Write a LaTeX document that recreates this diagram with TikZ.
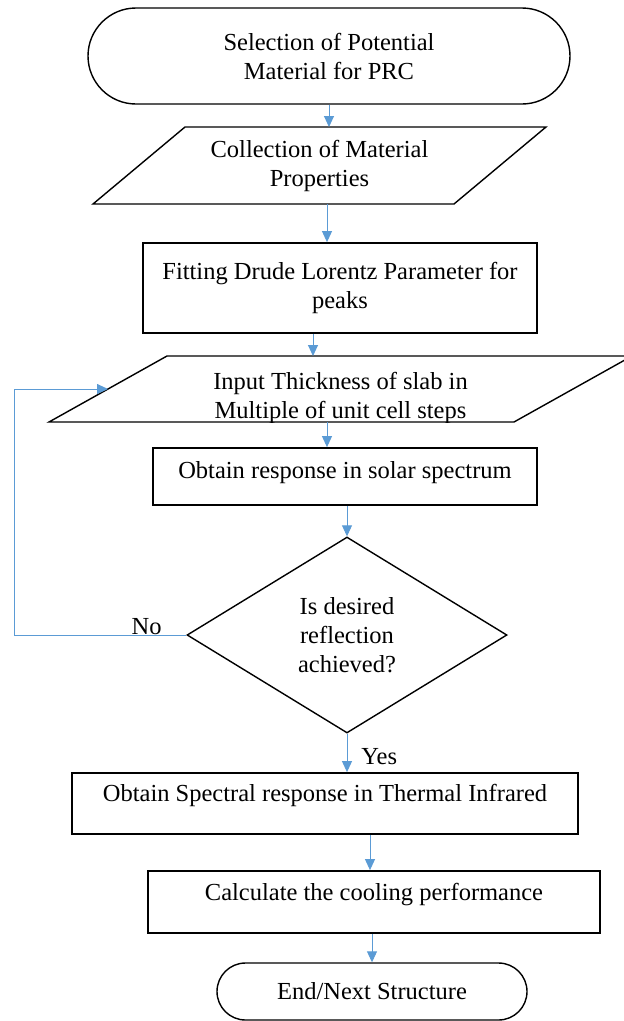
\documentclass[tikz,border=0pt]{standalone}
\usepackage{fontspec}
\setmainfont{Liberation Serif}
\usetikzlibrary{shapes.geometric,shapes.misc,arrows.meta}

\definecolor{flowblue}{RGB}{91,155,213}

\tikzset{
  txt/.style={align=center, inner sep=0pt, font=\fontsize{24.5}{29}\selectfont},
  outline/.style={draw=black, line width=1.4pt, line join=miter},
  base/.style={txt, outline},
  term/.style={base, rounded rectangle},
  proc/.style={base, rectangle, line width=1.8pt},
  decide/.style={base, diamond},
  flow/.style={draw=flowblue, line width=0.9pt, -{Triangle[length=11pt,width=10pt]}},
}

\begin{document}
\begin{tikzpicture}[x=1pt,y=-1pt]

  \useasboundingbox[fill=white] (0,0) rectangle (624,1021);
  \clip (0,0) rectangle (624,1021);

  % flow chart boxes
  \node[term, minimum width=482pt, minimum height=96pt] (select) at (329,56)
    {Selection of Potential\\Material for PRC};

  % input/output boxes drawn as parallelograms
  \draw[outline] (93,204) -- (185,127) -- (546,127) -- (454,204) -- cycle;
  \coordinate (collect n) at (319.5,127);
  \coordinate (collect s) at (319.5,204);
  \node[txt] (collect) at (319.5,166) {Collection of Material\\Properties};

  \node[proc, minimum width=394pt, minimum height=90pt] (fit) at (340,288)
    {Fitting Drude Lorentz Parameter for\\peaks};

  \draw[outline] (49,422) -- (167,356) -- (632,356) -- (514,422) -- cycle;
  \coordinate (thick n) at (340.5,356);
  \coordinate (thick s) at (340.5,422);
  \coordinate (thick w) at (108,389);
  \begin{scope}
    \clip (49,422) -- (167,356) -- (632,356) -- (514,422) -- cycle;
    \node[txt] (thick) at (340.5,397.5)
      {Input Thickness of slab in\\Multiple of unit cell steps};
  \end{scope}

  \node[proc, minimum width=384pt, minimum height=57pt, text depth=12.3pt] (solar) at (345,476.5)
    {Obtain response in solar spectrum};
  \node[decide, minimum width=320pt, minimum height=196pt] (check) at (347,635)
    {Is desired\\reflection\\achieved?};
  \node[proc, minimum width=506pt, minimum height=61pt, text depth=22pt] (thermal) at (325,803.5)
    {Obtain Spectral response in Thermal Infrared};
  \node[proc, minimum width=452pt, minimum height=62pt, text depth=19.3pt] (cool) at (374,902)
    {Calculate the cooling performance};
  \node[term, minimum width=310pt, minimum height=57pt] (finish) at (372,991.5)
    {End/Next Structure};

  % connectors
  \draw[flow] (select.south) -- (select.south |- collect n);
  \draw[flow] ([xshift=-13pt]fit.north |- collect s) -- ([xshift=-13pt]fit.north);
  \draw[flow] ([xshift=-27pt]fit.south) -- ([xshift=-27pt]fit.south |- thick n);
  \draw[flow] ([xshift=-18pt]solar.north |- thick s) -- ([xshift=-18pt]solar.north);
  \draw[flow] (check.north |- solar.south) -- (check.north);
  \draw[flow] (check.south) -- (check.south |- thermal.north)
    node[txt, pos=0.6, right=14pt] (yes) {Yes};
  \draw[flow] ([xshift=-4pt]cool.north |- thermal.south) -- ([xshift=-4pt]cool.north);
  \draw[flow] (finish.north |- cool.south) -- (finish.north);

  % loop back
  \coordinate (back) at (14,635);
  \draw[flow] (check.west) -- (back)
    node[txt, pos=0.23, above] (no) {No}
    |- (thick w);

\end{tikzpicture}
\end{document}
